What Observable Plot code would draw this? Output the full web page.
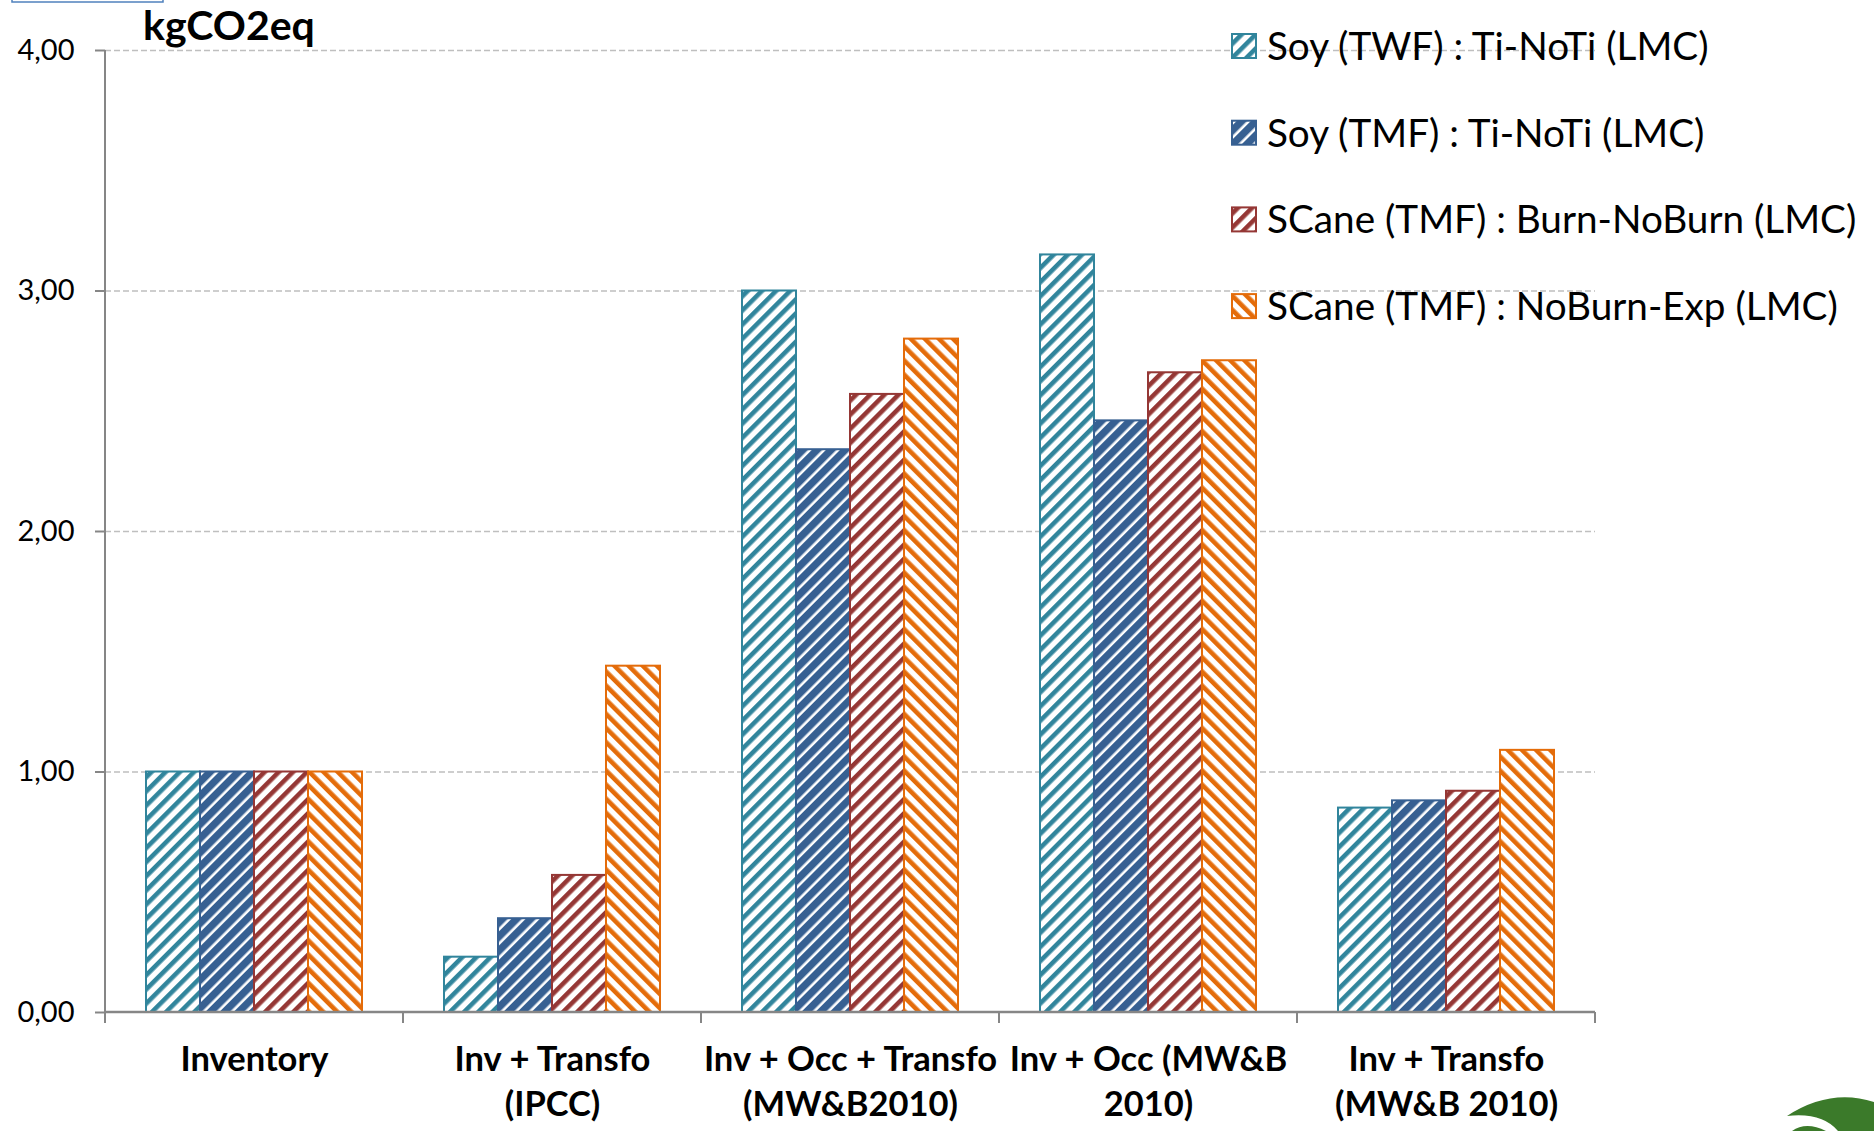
<!DOCTYPE html>
<html><head><meta charset="utf-8">
<script src="https://cdn.jsdelivr.net/npm/d3@7"></script>
<script src="https://cdn.jsdelivr.net/npm/@observablehq/plot@0.6"></script>
<style>
html,body{margin:0;padding:0;background:#fff;overflow:hidden}
#chart{position:relative;width:1874px;height:1131px}
</style></head><body><div id="chart"></div>
<script>
// ---- data ----
const categories = ["Inventory", "Inv + Transfo (IPCC)", "Inv + Occ + Transfo (MW&B2010)", "Inv + Occ (MW&B 2010)", "Inv + Transfo (MW&B 2010)"];
const categoryLabels = ["Inventory", "Inv + Transfo\n(IPCC)", "Inv + Occ + Transfo\n(MW&B2010)", "Inv + Occ (MW&B\n2010)", "Inv + Transfo\n(MW&B 2010)"];
const series = ["Soy (TWF) : Ti-NoTi (LMC)", "Soy (TMF) : Ti-NoTi (LMC)", "SCane (TMF) : Burn-NoBurn (LMC)", "SCane (TMF) : NoBurn-Exp (LMC)"];
const soyTWF      = [1.00, 0.23, 3.00, 3.15, 0.85];
const soyTMF      = [1.00, 0.39, 2.34, 2.46, 0.88];
const scaneBurn   = [1.00, 0.57, 2.57, 2.66, 0.92];
const scaneNoBurn = [1.00, 1.44, 2.80, 2.71, 1.09];
const yTicks = [0, 1, 2, 3, 4];
const yTickLabels = ["0,00", "1,00", "2,00", "3,00", "4,00"];
const yUnit = "kgCO2eq";

// ---- styling ----
const seriesValues = [soyTWF, soyTMF, scaneBurn, scaneNoBurn];
const seriesColors = ["#31859c", "#376092", "#953735", "#e46c0a"];
const hatchIds = ["hatch-0", "hatch-1", "hatch-2", "hatch-3"];
const hatchThickness = [4.6, 7.4, 4.6, 4.6];
const hatchAngle = [45, 45, 45, -45];
const FONT = "Lato, 'Open Sans', sans-serif";

const data = series.flatMap((s, j) => categories.map((c, i) => ({category: c, series: s, value: seriesValues[j][i], idx: j})));

const plot = Plot.plot({
  width: 1874,
  height: 1131,
  marginLeft: 104,
  marginRight: 278,
  marginTop: 50,
  marginBottom: 119,
  style: {fontFamily: FONT, background: "#fff", color: "#000"},
  fx: {domain: categories, padding: 0},
  x: {domain: series, paddingInner: 0, paddingOuter: 0.742, axis: null},
  y: {domain: [0, 4], axis: null},
  color: {type: "identity"},
  marks: [
    Plot.gridY({ticks: yTicks.filter(t => t > 0), stroke: "#bfbfbf", strokeOpacity: 1, strokeWidth: 1.5, strokeDasharray: "6,3"}),
    Plot.barY(data, {
      fx: "category", x: "series", y: "value",
      fill: d => `url(#${hatchIds[d.idx]})`,
      stroke: d => seriesColors[d.idx],
      strokeWidth: 2
    }),
    Plot.axisY({ticks: yTicks, tickFormat: d => yTickLabels[yTicks.indexOf(d)], tickSize: 10, tickPadding: 21,
      fontSize: 29, stroke: "#868686", strokeWidth: 2, fill: "#000", label: null}),
    Plot.axisFx({anchor: "bottom", tickSize: 0, tickPadding: 26, fontSize: 34.5, fontWeight: "bold", lineHeight: 1.32,
      tickFormat: c => categoryLabels[categories.indexOf(c)], fill: "#000", label: null})
  ]
});

document.getElementById("chart").appendChild(plot);
const svg = d3.select(plot);
const defs = svg.insert("defs", ":first-child");
seriesColors.forEach((col, j) => {
  const p = defs.append("pattern").attr("id", hatchIds[j]).attr("patternUnits", "userSpaceOnUse")
    .attr("width", 10).attr("height", 10).attr("patternTransform", `rotate(${hatchAngle[j]})`);
  p.append("rect").attr("width", 10).attr("height", 10).attr("fill", "#fff");
  p.append("rect").attr("x", 0).attr("width", hatchThickness[j]).attr("height", 10).attr("fill", col);
});

// axis lines and category boundary ticks, placed with the plot's own scales
const yS = plot.scale("y"), fxS = plot.scale("fx");
const y0 = yS.apply(0), yTop = yS.apply(d3.max(yTicks));
const edges = categories.map(c => fxS.apply(c));
edges.push(fxS.apply(categories[categories.length - 1]) + fxS.bandwidth);
const axisG = svg.append("g").attr("stroke", "#868686").attr("fill", "none");
axisG.append("line").attr("x1", edges[0]).attr("x2", edges[0]).attr("y1", yTop).attr("y2", y0).attr("stroke-width", 2);
edges.forEach(e => axisG.append("line").attr("x1", e).attr("x2", e).attr("y1", y0).attr("y2", y0 + 11).attr("stroke-width", 2));
axisG.append("line").attr("x1", edges[0]).attr("x2", edges[edges.length - 1]).attr("y1", y0).attr("y2", y0).attr("stroke-width", 2.5);

// y unit title
svg.append("text").attr("x", 143).attr("y", 40).attr("text-anchor", "start").attr("font-family", FONT).attr("font-weight", "bold")
  .attr("font-size", 41).attr("fill", "#000").text(yUnit);

// legend
const legend = svg.append("g").attr("font-family", FONT).attr("font-size", 38.7).attr("fill", "#000").attr("text-anchor", "start");
series.forEach((s, j) => {
  const cy = 46 + j * 86.7;
  legend.append("rect").attr("x", 1232).attr("y", cy - 12).attr("width", 24).attr("height", 24)
    .attr("fill", `url(#${hatchIds[j]})`).attr("stroke", seriesColors[j]).attr("stroke-width", 2);
  legend.append("text").attr("x", 1267).attr("y", cy).attr("dy", "0.36em").text(s);
});

// decorations: cropped box top-left and logo fragment bottom-right
svg.append("rect").attr("x", 12).attr("y", -10).attr("width", 151).attr("height", 12)
  .attr("fill", "none").attr("stroke", "#4f81bd").attr("stroke-width", 1.5);
svg.append("path").attr("fill", "#3b7a2a")
  .attr("d", "M1787,1116 Q1830,1088 1874,1102 L1874,1131 L1838,1131 Q1822,1112 1787,1116 Z");
svg.append("path").attr("fill", "#3b7a2a")
  .attr("d", "M1792,1131 Q1806,1121 1826,1131 Z");
</script></body></html>
